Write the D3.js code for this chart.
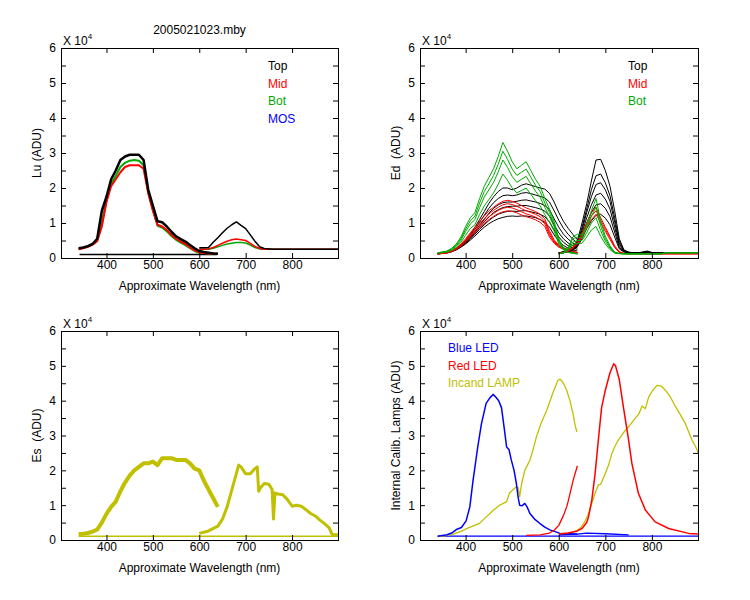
<!DOCTYPE html>
<html>
<head>
<meta charset="utf-8">
<script src="https://cdn.jsdelivr.net/npm/d3@7"></script>
<style>
  body { margin: 0; background: #fff; }
  svg { display: block; font-family: "Liberation Sans", Arial, sans-serif; }
</style>
</head>
<body>
<svg id="chart" width="750" height="600"></svg>
<script>
// ---------------------------------------------------------------
// wavelength grids (nm): spectrometer A (blue side), B (red side)
const wlA = [340,350,360,370,380,390,400,410,420,430,440,450,460,470,480,490,500,510,520,530,540,550,560,570,580,590,600,610,620,630,640];
const wlB = [600,610,620,630,640,650,660,670,680,690,700,710,720,730,740,750,760,770,780,790,800,810,820,830,840,850,860,870,880,890,900];

const xTicks = [400, 500, 600, 700, 800];
const yTicks = [0,0.5,1,1.5,2,2.5,3,3.5,4,4.5,5,5.5,6];

// ---------------------------------------------------------------
// Lu (x 10^4 ADU)
const luTopA = [.28,.3,.34,.4,.55,1.35,1.75,2.25,2.5,2.8,2.9,2.95,2.95,2.95,2.8,1.95,1.5,1.05,1.02,.9,.75,.62,.54,.47,.37,.28,.2,.17,.15,.13,.12];
const luMidA = [.25,.28,.32,.38,.48,.9,1.6,2.05,2.25,2.45,2.6,2.65,2.65,2.65,2.55,1.85,1.35,.95,.9,.8,.66,.55,.47,.4,.3,.22,.16,.14,.13,.13,.12];
const luBotA = [.26,.29,.33,.39,.5,1.0,1.65,2.12,2.35,2.6,2.72,2.78,2.8,2.78,2.65,1.88,1.38,.92,.87,.76,.63,.52,.44,.37,.28,.2,.15,.14,.13,.12,.12];
const luTopB = [.29,.29,.3,.45,.58,.72,.85,.95,1.03,.93,.84,.66,.48,.32,.27,.26,.25,.25,.25,.25,.25,.25,.25,.25,.25,.25,.25,.25,.25,.25,.25];
const luMidB = [.25,.25,.26,.3,.36,.42,.48,.52,.54,.52,.5,.42,.33,.27,.25,.25,.25,.25,.25,.25,.25,.25,.25,.25,.25,.25,.25,.25,.25,.25,.25];
const luBotB = [.25,.25,.25,.28,.32,.36,.4,.42,.44,.44,.43,.37,.3,.26,.25,.25,.25,.25,.25,.25,.25,.25,.25,.25,.25,.25,.25,.25,.25,.25,.25];
const luDarkWl = [342, 638];
const luDark = [.1, .1];

// ---------------------------------------------------------------
// Ed (x 10^4 ADU), several casts per sensor
const edTopA = [
  [.12,.14,.16,.2,.28,.38,.5,.68,.88,1.1,1.33,1.56,1.75,1.9,2.0,2.0,1.95,2.0,2.08,2.12,2.08,2.04,2.0,1.97,1.85,1.6,1.3,1.05,.85,.68,.52],
  [.12,.14,.16,.2,.27,.36,.48,.64,.82,1.02,1.22,1.42,1.58,1.7,1.78,1.8,1.78,1.8,1.85,1.87,1.84,1.8,1.76,1.72,1.6,1.35,1.08,.85,.68,.54,.42],
  [.12,.14,.16,.19,.26,.35,.46,.6,.76,.94,1.1,1.28,1.42,1.52,1.58,1.6,1.6,1.62,1.65,1.66,1.63,1.6,1.56,1.5,1.38,1.12,.88,.68,.54,.43,.35],
  [.12,.13,.15,.19,.25,.34,.44,.57,.72,.88,1.03,1.17,1.3,1.38,1.44,1.47,1.48,1.48,1.5,1.5,1.47,1.44,1.4,1.34,1.2,.95,.72,.55,.43,.35,.29],
  [.12,.13,.15,.18,.24,.32,.42,.54,.68,.82,.95,1.07,1.17,1.25,1.3,1.33,1.34,1.33,1.35,1.35,1.32,1.29,1.25,1.18,1.03,.8,.6,.45,.35,.29,.25],
  [.12,.13,.15,.18,.23,.31,.4,.51,.63,.76,.88,.98,1.06,1.12,1.16,1.19,1.2,1.19,1.2,1.2,1.18,1.15,1.1,1.02,.88,.66,.48,.36,.28,.23,.2]
];
const edMidA = [
  [.12,.13,.15,.2,.28,.4,.55,.72,.88,1.05,1.2,1.35,1.45,1.55,1.62,1.65,1.62,1.57,1.5,1.43,1.38,1.33,1.25,1.12,.78,.52,.37,.3,.24,.19,.16],
  [.12,.13,.15,.2,.27,.38,.52,.68,.83,.98,1.12,1.26,1.36,1.45,1.52,1.55,1.53,1.48,1.41,1.35,1.3,1.25,1.18,1.05,.72,.48,.35,.28,.22,.18,.15],
  [.12,.13,.15,.19,.26,.36,.49,.64,.78,.92,1.05,1.18,1.27,1.36,1.42,1.45,1.43,1.38,1.32,1.26,1.22,1.17,1.1,.98,.66,.45,.33,.26,.21,.17,.15],
  [.12,.13,.14,.18,.25,.34,.46,.6,.73,.86,.98,1.1,1.19,1.27,1.32,1.35,1.33,1.29,1.23,1.18,1.14,1.09,1.02,.9,.6,.42,.31,.25,.2,.17,.15]
];
const edBotA = [
  [.15,.17,.2,.28,.4,.6,.9,1.15,1.3,1.7,2.05,2.3,2.55,2.9,3.3,3.05,2.75,2.55,2.65,2.75,2.5,2.25,2.05,1.7,1.4,1.05,.55,.3,.2,.15,.12],
  [.15,.17,.19,.26,.37,.55,.83,1.06,1.2,1.57,1.9,2.12,2.36,2.68,3.05,2.82,2.54,2.36,2.45,2.54,2.31,2.08,1.9,1.57,1.3,.97,.5,.28,.19,.15,.12],
  [.14,.16,.18,.24,.34,.51,.76,.97,1.1,1.44,1.74,1.95,2.16,2.46,2.8,2.59,2.33,2.16,2.25,2.33,2.12,1.91,1.74,1.44,1.19,.89,.45,.26,.18,.14,.12],
  [.14,.15,.17,.22,.3,.45,.65,.84,.95,1.24,1.49,1.67,1.86,2.11,2.4,2.22,2.0,1.86,1.93,2.0,1.82,1.64,1.49,1.24,1.02,.77,.4,.23,.16,.13,.12]
];
const edTopB = [
  [.15,.17,.2,.3,.5,1.0,1.55,2.2,2.8,2.82,2.5,2.05,1.35,.55,.23,.17,.15,.15,.17,.2,.16,.14,.14,.14,.14,.14,.14,.14,.14,.14,.14],
  [.15,.17,.2,.28,.45,.88,1.4,1.95,2.35,2.4,2.15,1.78,1.15,.48,.21,.16,.15,.15,.16,.18,.15,.14,.14,.14,.14,.14,.14,.14,.14,.14,.14],
  [.15,.17,.2,.26,.42,.8,1.3,1.75,2.1,2.15,1.95,1.62,1.02,.42,.2,.16,.15,.15,.16,.17,.15,.14,.14,.14,.14,.14,.14,.14,.14,.14,.14],
  [.15,.17,.19,.25,.38,.72,1.15,1.52,1.8,1.85,1.68,1.4,.88,.36,.19,.15,.15,.15,.16,.17,.15,.14,.14,.14,.14,.14,.14,.14,.14,.14,.14],
  [.15,.16,.19,.23,.35,.64,1.0,1.3,1.52,1.55,1.42,1.18,.74,.3,.18,.15,.15,.15,.15,.16,.15,.14,.14,.14,.14,.14,.14,.14,.14,.14,.14],
  [.15,.16,.18,.22,.32,.55,.84,1.06,1.22,1.25,1.14,.95,.6,.26,.17,.15,.15,.15,.15,.16,.15,.14,.14,.14,.14,.14,.14,.14,.14,.14,.14]
];
const edMidB = [
  [.13,.15,.2,.3,.45,.7,1.0,1.3,1.45,1.15,.88,.62,.35,.18,.13,.12,.12,.12,.12,.12,.12,.12,.12,.12,.12,.12,.12,.12,.12,.12,.12],
  [.13,.15,.19,.28,.42,.65,.92,1.2,1.35,1.08,.82,.58,.32,.17,.13,.12,.12,.12,.12,.12,.12,.12,.12,.12,.12,.12,.12,.12,.12,.12,.12],
  [.13,.15,.19,.27,.4,.6,.85,1.1,1.25,1.0,.76,.53,.3,.16,.13,.12,.12,.12,.12,.12,.12,.12,.12,.12,.12,.12,.12,.12,.12,.12,.12]
];
const edBotB = [
  [.12,.15,.3,.6,.68,.65,.95,1.35,1.7,1.05,.62,.35,.17,.13,.12,.12,.12,.12,.12,.12,.12,.12,.12,.15,.15,.15,.15,.15,.15,.15,.15],
  [.12,.15,.28,.55,.6,.58,.85,1.2,1.45,.92,.55,.32,.16,.13,.12,.12,.12,.12,.12,.12,.12,.12,.12,.15,.15,.15,.15,.15,.15,.15,.15],
  [.12,.14,.25,.45,.5,.5,.72,1.0,1.15,.78,.48,.28,.15,.13,.12,.12,.12,.12,.12,.12,.12,.12,.12,.15,.15,.15,.15,.15,.15,.15,.15],
  [.12,.14,.22,.38,.42,.42,.6,.8,.9,.62,.4,.24,.14,.12,.12,.12,.12,.12,.12,.12,.12,.12,.12,.15,.15,.15,.15,.15,.15,.15,.15]
];

// ---------------------------------------------------------------
// Es (x 10^4 ADU)
const esA = [.17,.18,.2,.24,.3,.5,.75,.95,1.1,1.4,1.65,1.85,2.0,2.1,2.2,2.2,2.25,2.15,2.35,2.35,2.35,2.3,2.3,2.3,2.2,2.05,2.0,1.7,1.45,1.2,.95];
const esWlB = [600,620,640,650,660,670,680,685,690,700,710,720,725,728,732,740,750,757,760,763,770,780,790,800,810,820,830,840,850,860,870,880,886,890,900];
const esB = [.19,.26,.4,.6,.95,1.43,1.91,2.15,2.1,1.9,1.9,2.05,2.1,1.4,1.5,1.62,1.6,1.45,.6,1.35,1.32,1.3,1.16,.97,1.0,.97,.87,.76,.69,.57,.47,.35,.17,.15,.15];
const esDarkWl = [340, 900];
const esDark = [.11, .11];

// ---------------------------------------------------------------
// internal calibration lamps (x 10^4 ADU)
const blueWlA = [340,360,370,380,391,401,409,416,426,434,444,452,459,465,471,477,483,488,493,498,504,509,513,516,521,527,532,538,548,559,570,581,603,620,640];
const blueA = [.11,.15,.2,.3,.36,.55,.95,1.72,2.67,3.34,3.92,4.08,4.18,4.1,4.0,3.8,3.2,2.67,2.6,2.3,2.0,1.62,1.2,1.0,.98,1.05,.95,.76,.6,.48,.37,.29,.19,.18,.17];
const blueWlB = [600,640,660,700,750];
const blueB = [.15,.17,.2,.18,.15];
const blueDarkWl = [340, 900];
const blueDark = [.11, .11];

const redWlA = [530,560,580,590,600,610,617,620,631,640];
const redA = [.13,.15,.2,.28,.42,.7,.95,1.1,1.72,2.13];
const redWlB = [600,620,640,650,660,664,671,678,685,692,700,710,718,722,730,739,750,757,771,786,807,836,879,900];
const redB = [.17,.2,.26,.33,.5,.67,1.15,1.9,2.87,3.8,4.3,4.8,5.06,5.0,4.6,3.8,2.87,2.2,1.34,.86,.52,.33,.19,.17];

const lampWlA = [340,350,360,373,390,401,415,430,441,452,462,473,481,488,494,502,509,513,516,520,527,538,545,552,562,574,588,598,603,610,617,624,631,635,639];
const lampA = [.1,.11,.13,.17,.25,.32,.4,.48,.62,.76,.88,1.0,1.05,1.1,1.34,1.45,1.53,1.5,1.24,1.6,2.0,2.29,2.6,2.96,3.35,3.72,4.25,4.58,4.62,4.5,4.3,4.0,3.6,3.3,3.1];
const lampWlB = [600,610,620,630,640,649,657,664,671,678,685,690,700,707,714,721,728,740,750,764,772,779,786,793,802,811,820,829,840,851,861,872,886,895,900];
const lampB = [.18,.19,.2,.22,.28,.38,.55,.76,1.05,1.34,1.58,1.6,1.91,2.15,2.48,2.7,2.87,3.1,3.25,3.49,3.62,3.85,3.77,4.1,4.3,4.44,4.42,4.3,4.1,3.82,3.6,3.34,2.87,2.65,2.48];

// ---------------------------------------------------------------
const BLACK = "#000000", RED = "#ff0000", GREEN = "#00aa00", BLUE = "#0000ff", OLIVE = "#c0c000";

const ser = (wl, v, color, width) => ({ wl, v, color, width });

const panels = [
  {
    id: "lu", left: 61, right: 338, top: 48, bottom: 258, ylabel: "Lu (ADU)",
    series: [
      ser(luDarkWl, luDark, BLACK, 1.5),
      ser(wlA, luBotA, GREEN, 2), ser(wlA, luMidA, RED, 2), ser(wlA, luTopA, BLACK, 2.5),
      ser(wlB, luBotB, GREEN, 1.5), ser(wlB, luMidB, RED, 1.5), ser(wlB, luTopB, BLACK, 1.5)
    ],
    legend: { x: 268, y: 70, items: [["Top", BLACK], ["Mid", RED], ["Bot", GREEN], ["MOS", BLUE]] }
  },
  {
    id: "ed", left: 420, right: 698, top: 48, bottom: 258, ylabel: "Ed  (ADU)",
    series: [].concat(
      edTopA.map(v => ser(wlA, v, BLACK, 1)),
      edMidA.map(v => ser(wlA, v, RED, 1)),
      edBotA.map(v => ser(wlA, v, GREEN, 1)),
      edTopB.map(v => ser(wlB, v, BLACK, 1)),
      edMidB.map(v => ser(wlB, v, RED, 1)),
      edBotB.map(v => ser(wlB, v, GREEN, 1))
    ),
    legend: { x: 628, y: 70, items: [["Top", BLACK], ["Mid", RED], ["Bot", GREEN]] }
  },
  {
    id: "es", left: 61, right: 338, top: 331, bottom: 540, ylabel: "Es  (ADU)",
    series: [
      ser(esDarkWl, esDark, OLIVE, 1.5),
      ser(wlA, esA, OLIVE, 4), ser(esWlB, esB, OLIVE, 3)
    ],
    legend: null
  },
  {
    id: "cal", left: 420, right: 698, top: 331, bottom: 540, ylabel: "Internal Calib. Lamps (ADU)",
    series: [
      ser(blueDarkWl, blueDark, BLUE, 1.3),
      ser(lampWlA, lampA, OLIVE, 1.3), ser(lampWlB, lampB, OLIVE, 1.3),
      ser(blueWlA, blueA, BLUE, 1.5), ser(blueWlB, blueB, BLUE, 1.3),
      ser(redWlA, redA, RED, 1.3), ser(redWlB, redB, RED, 1.5)
    ],
    legend: { x: 448, y: 352, items: [["Blue LED", BLUE], ["Red LED", RED], ["Incand LAMP", OLIVE]] }
  }
];

const svg = d3.select("#chart");
const defs = svg.append("defs");

// title
svg.append("text")
  .attr("x", 199.5).attr("y", 34)
  .attr("text-anchor", "middle")
  .attr("font-size", 12)
  .text("2005021023.mby");

panels.forEach(p => {
  const x = d3.scaleLinear().domain([302, 899]).range([p.left, p.right]);
  const y = d3.scaleLinear().domain([0, 6]).range([p.bottom, p.top]);
  const g = svg.append("g").attr("class", "panel-" + p.id);

  defs.append("clipPath").attr("id", "clip-" + p.id)
    .append("rect")
    .attr("x", p.left).attr("y", p.top)
    .attr("width", p.right - p.left).attr("height", p.bottom - p.top);

  // curves
  const line = d3.line().x(d => x(d[0])).y(d => y(d[1]));
  const plot = g.append("g").attr("clip-path", `url(#clip-${p.id})`);
  p.series.forEach(s => {
    plot.append("path")
      .datum(d3.zip(s.wl, s.v))
      .attr("d", line)
      .attr("fill", "none")
      .attr("stroke", s.color)
      .attr("stroke-width", s.width)
      .attr("stroke-linejoin", "round");
  });

  // axes, ticks pointing inward on all four sides
  const styleAxis = sel => {
    sel.select(".domain").remove();
    sel.selectAll(".tick line").attr("stroke", "#000");
    sel.selectAll("text").attr("fill", "#000").attr("font-size", 12)
      .attr("font-family", '"Liberation Sans", Arial, sans-serif');
  };
  g.append("g").attr("transform", `translate(0,${p.bottom})`)
    .call(d3.axisBottom(x).tickValues(xTicks).tickSize(-5).tickPadding(2))
    .call(styleAxis);
  g.append("g").attr("transform", `translate(0,${p.top})`)
    .call(d3.axisTop(x).tickValues(xTicks).tickSize(-5).tickFormat(""))
    .call(styleAxis);
  g.append("g").attr("transform", `translate(${p.left},0)`)
    .call(d3.axisLeft(y).tickValues(yTicks).tickSize(-5).tickPadding(5)
      .tickFormat(d => Number.isInteger(d) ? d : ""))
    .call(styleAxis);
  g.append("g").attr("transform", `translate(${p.right},0)`)
    .call(d3.axisRight(y).tickValues(yTicks).tickSize(-5).tickFormat(""))
    .call(styleAxis);

  // frame
  g.append("rect")
    .attr("x", p.left + 0.5).attr("y", p.top + 0.5)
    .attr("width", p.right - p.left).attr("height", p.bottom - p.top)
    .attr("fill", "none").attr("stroke", "#000").attr("shape-rendering", "crispEdges");

  // x 10^4 multiplier
  const mult = g.append("text")
    .attr("x", p.left + 2).attr("y", p.top - 3)
    .attr("font-size", 12);
  mult.append("tspan").text("X 10");
  mult.append("tspan").attr("font-size", 8).attr("dy", -6).text("4");

  // axis titles
  g.append("text")
    .attr("x", (p.left + p.right) / 2).attr("y", p.bottom + 32)
    .attr("text-anchor", "middle").attr("font-size", 12)
    .text("Approximate Wavelength (nm)");
  g.append("text")
    .attr("transform", `translate(${p.left - 24},${(p.top + p.bottom) / 2}) rotate(-90)`)
    .attr("dy", "0.35em")
    .attr("text-anchor", "middle").attr("font-size", 12)
    .style("white-space", "pre")
    .text(p.ylabel);

  // legend
  if (p.legend) {
    g.selectAll(".legend-item")
      .data(p.legend.items)
      .join("text")
      .attr("x", p.legend.x)
      .attr("y", (d, i) => p.legend.y + i * 17.5)
      .attr("font-size", 12)
      .attr("fill", d => d[1])
      .text(d => d[0]);
  }
});
</script>
</body>
</html>
